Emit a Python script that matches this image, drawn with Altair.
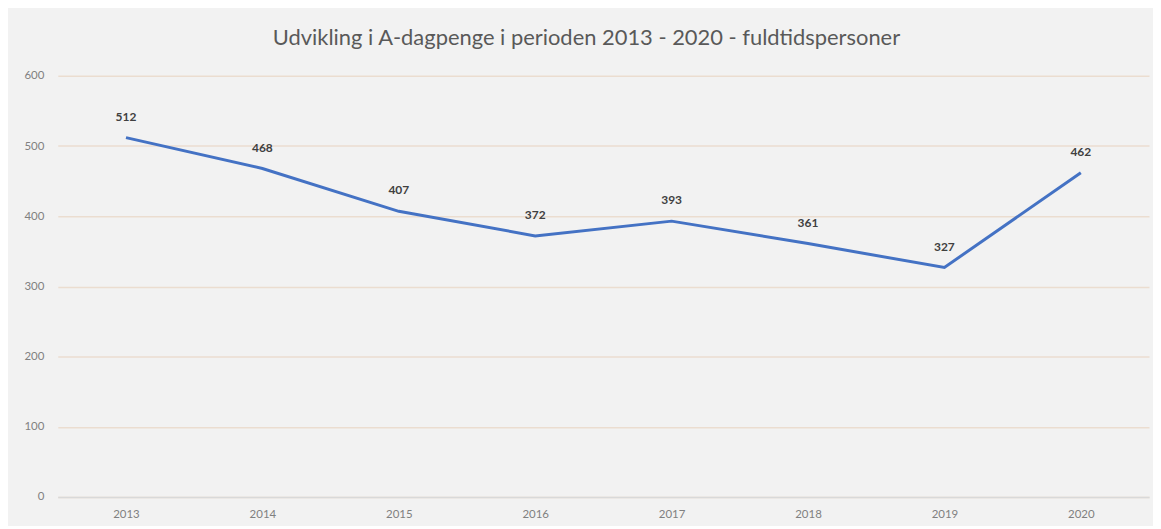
import altair as alt
import pandas as pd

years = ["2013", "2014", "2015", "2016", "2017", "2018", "2019", "2020"]
values = [512, 468, 407, 372, 393, 361, 327, 462]
title_text = "Udvikling i A-dagpenge i perioden 2013 - 2020 - fuldtidspersoner"

df = pd.DataFrame({"year": years, "value": values})

x = alt.X("year:O", title=None, sort=years,
          scale=alt.Scale(paddingInner=0, paddingOuter=0),
          axis=alt.Axis(labelAngle=0, ticks=False, domain=True, domainColor="#D9D9D9",
                        domainWidth=1.5, labelPadding=12, labelFontSize=11.5,
                        labelColor="#808080", labelFont="Lato", grid=False))
y = alt.Y("value:Q", title=None,
          scale=alt.Scale(domain=[0, 600], nice=False),
          axis=alt.Axis(values=[0, 100, 200, 300, 400, 500, 600], ticks=False, domain=False,
                        gridColor="#EBDDD0", gridWidth=1.5, labelPadding=14,
                        labelFontSize=11.5, labelColor="#808080", labelFont="Lato"))

base = alt.Chart(df)
line = base.mark_line(color="#4472C4", strokeWidth=3).encode(x=x, y=y)
labels = base.mark_text(dy=-21, fontSize=12, fontWeight="bold", color="#404040",
                        font="Lato").encode(x=x, y=y, text="value:Q")

chart = (line + labels).properties(
    width=1096, height=423,
    autosize=alt.AutoSizeParams(type="none"),
    padding={"left": 50, "top": 67, "right": 4, "bottom": 28},
    background="#F2F2F2",
    title=alt.TitleParams(title_text, fontSize=22, font="Lato", fontWeight="normal",
                          color="#595959", anchor="middle", dx=-17, offset=20),
).configure_view(stroke=None)

chart.save("out.html", embed_options={"renderer": "svg", "actions": False})
